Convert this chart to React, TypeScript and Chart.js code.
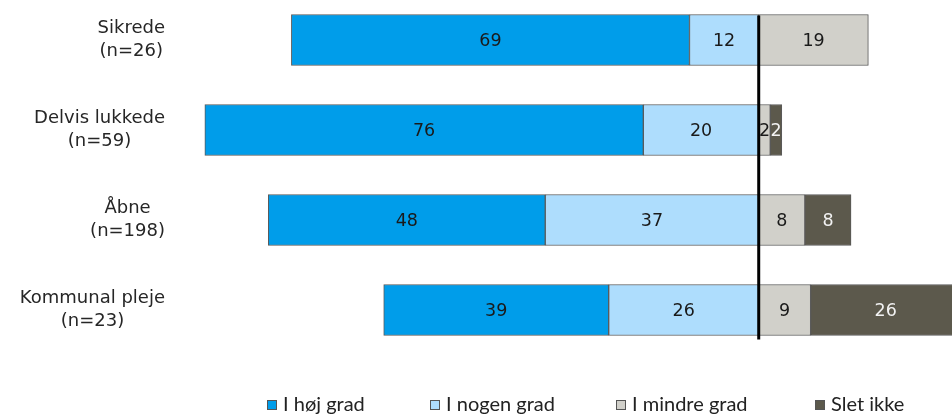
import React, { useEffect, useRef } from "react";
import { Chart, registerables } from "chart.js";

Chart.register(...registerables);

const categories: string[][] = [
  ["Sikrede", "(n=26)"],
  ["Delvis lukkede", "(n=59)"],
  ["Åbne", "(n=198)"],
  ["Kommunal pleje", "(n=23)"],
];
const seriesNames = ["I høj grad", "I nogen grad", "I mindre grad", "Slet ikke"];
const hojGrad = [69, 76, 48, 39];
const nogenGrad = [12, 20, 37, 26];
const mindreGrad = [19, 2, 8, 9];
const sletIkke = [0, 2, 8, 26];

const COLORS = ["#009DEA", "#AEDDFD", "#D1D0CA", "#5C594C"];
const LABEL_COLORS = ["#1a1a1a", "#1a1a1a", "#1a1a1a", "#f2f2f2"];
const LEGEND_X = [267, 430, 616, 815];

const overlayPlugin = {
  id: "overlay",
  afterDatasetsDraw(chart: any) {
    const ctx = chart.ctx as CanvasRenderingContext2D;
    const xs = chart.scales.x;
    const ys = chart.scales.y;

    // zero line
    const metas = chart.getSortedVisibleDatasetMetas();
    const firstBar = metas[0].data[0];
    const lastBar = metas[0].data[metas[0].data.length - 1];
    const x0 = xs.getPixelForValue(0);
    ctx.save();
    ctx.strokeStyle = "#000";
    ctx.lineWidth = 3;
    ctx.beginPath();
    ctx.moveTo(x0, firstBar.y - firstBar.height / 2 + 1);
    ctx.lineTo(x0, lastBar.y + lastBar.height / 2 + 4);
    ctx.stroke();

    // data labels
    ctx.font = "17.5px 'DejaVu Sans'";
    ctx.textAlign = "center";
    ctx.textBaseline = "middle";
    metas.forEach((meta: any) => {
      const ds = chart.data.datasets[meta.index] as any;
      meta.data.forEach((el: any, i: number) => {
        const v = ds.data[i];
        if (!v) return;
        ctx.fillStyle = ds.labelColor;
        ctx.fillText(String(Math.abs(v)), (el.x + el.base) / 2, el.y + 1);
      });
    });

    // category labels
    ctx.font = "18px 'DejaVu Sans'";
    ctx.fillStyle = "#262626";
    const right = 165;
    categories.forEach((lines, i) => {
      const y = ys.getPixelForValue(i);
      const w = Math.max(...lines.map((l) => ctx.measureText(l).width));
      const cx = right - w / 2;
      lines.forEach((l, k) => {
        ctx.fillText(l, cx, y - 11.5 + k * 23);
      });
    });

    // legend
    ctx.font = "20px Lato";
    ctx.textAlign = "left";
    const ly = 405;
    seriesNames.forEach((name, i) => {
      const x = LEGEND_X[i];
      ctx.fillStyle = COLORS[i];
      ctx.fillRect(x, ly - 5, 10, 10);
      ctx.strokeStyle = "#555";
      ctx.lineWidth = 1;
      ctx.strokeRect(x + 0.5, ly - 4.5, 9, 9);
      ctx.fillStyle = "#222";
      ctx.fillText(name, x + 16, ly);
    });
    ctx.restore();
  },
};

export default function App() {
  const ref = useRef<HTMLCanvasElement>(null);
  useEffect(() => {
    if (!ref.current) return;
    const labels = categories.map((c) => c.join(" "));
    const mk = (idx: number, data: number[], neg: boolean) => ({
      label: seriesNames[idx],
      data: data.map((v) => (neg ? -v : v)),
      backgroundColor: COLORS[idx],
      borderColor: "#5a5a5a",
      borderWidth: 1,
      borderSkipped: false,
      barThickness: 51,
      stack: "s",
      clip: false,
      labelColor: LABEL_COLORS[idx],
    });
    const chart = new Chart(ref.current, {
      type: "bar",
      data: {
        labels,
        datasets: [
          mk(1, nogenGrad, true),
          mk(0, hojGrad, true),
          mk(2, mindreGrad, false),
          mk(3, sletIkke, false),
        ] as any,
      },
      options: {
        indexAxis: "y",
        responsive: false,
        animation: false,
        layout: { padding: { left: 176, right: 0, top: 40, bottom: 104 } },
        plugins: { legend: { display: false }, tooltip: { enabled: false } },
        scales: {
          x: { stacked: true, min: -101, max: 33.5, display: false },
          y: { stacked: true, display: false, offset: false },
        },
      },
      plugins: [overlayPlugin],
    });
    return () => chart.destroy();
  }, []);
  return (
    <div style={{ position: "fixed", left: 0, top: 0, width: 952, height: 414, background: "#fff" }}>
      <canvas ref={ref} width={952} height={414} style={{ display: "block" }} />
    </div>
  );
}
